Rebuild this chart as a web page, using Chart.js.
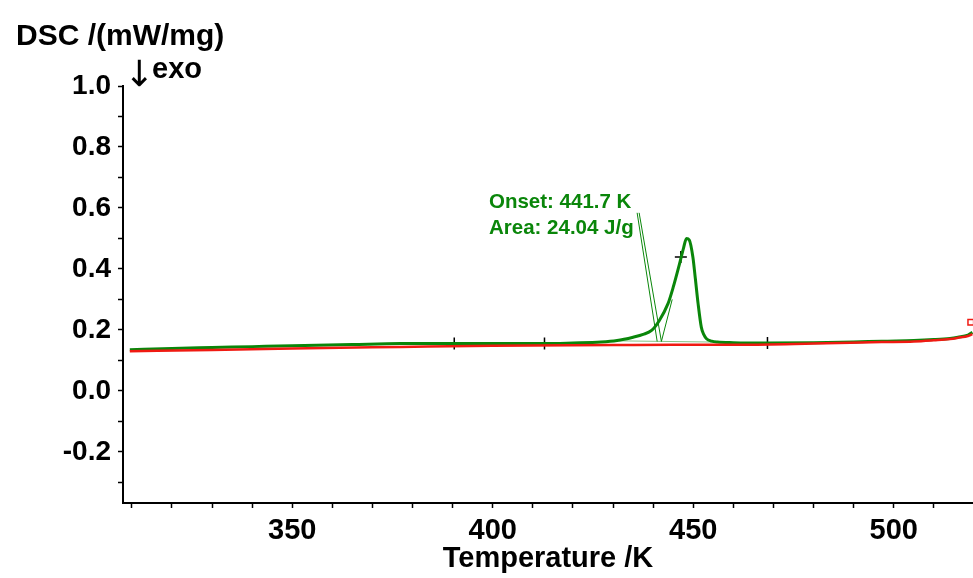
<!DOCTYPE html>
<html><head><meta charset="utf-8">
<script src="https://cdn.jsdelivr.net/npm/chart.js@4/dist/chart.umd.min.js"></script>
<style>html,body{margin:0;padding:0;background:#fff}</style>
</head><body>
<canvas id="c" width="973" height="578"></canvas>
<script>
// ---- data ----
const greenT = [309.5,320,330,340,350,365,377,390,400,413,420,427,431,435,437.5,439.6,441.5,443.7,445,446.6,447.6,448.3,449,449.9,450.5,451.2,452,452.6,453.3,454.6,456,460,468.5,480,490,497,505,510,514,516,518.5,519.6];
const greenV = [0.135,0.139,0.142,0.145,0.148,0.152,0.155,0.155,0.155,0.155,0.157,0.160,0.165,0.176,0.185,0.198,0.230,0.286,0.340,0.418,0.470,0.500,0.495,0.439,0.370,0.286,0.209,0.185,0.171,0.163,0.160,0.158,0.157,0.158,0.160,0.163,0.165,0.168,0.172,0.176,0.183,0.192];
const redT = [309.5,330,350,377,400,430,445,462,480,497,505,510,514,516,518.5,519.6];
const redV = [0.130,0.134,0.139,0.144,0.148,0.150,0.151,0.151,0.155,0.160,0.162,0.166,0.170,0.174,0.180,0.186];
const leaderA = [[436.0,0.584],[441.0,0.162]];
const leaderB = [[436.5,0.584],[442.05,0.162]];
const tangent = [[442.05,0.162],[444.75,0.300]];
const integBase = [[431,0.164],[455,0.160]];
const crossT = [390.4,412.9,446.9,468.5];
const crossV = [0.155,0.155,0.439,0.157];
const markT = [519.2];
const markV = [0.225];
const xTicks = [310,320,330,340,350,360,370,380,390,400,410,420,430,440,450,460,470,480,490,500,510];
const xLabels = [350,400,450,500];
const yTicks = [-0.3,-0.2,-0.1,0.0,0.1,0.2,0.3,0.4,0.5,0.6,0.7,0.8,0.9,1.0];
const yLabels = [-0.2,0.0,0.2,0.4,0.6,0.8,1.0];
const onsetText = 'Onset: 441.7 K';
const areaText = 'Area: 24.04 J/g';
const yTitle = 'DSC /(mW/mg)';
const exoText = 'exo';
const xTitle = 'Temperature /K';

const GREEN = '#0a860a';
const RED = '#f01a12';
const toXY = (ts, vs) => ts.map((t,i)=>({x:t,y:vs[i]}));
const pairs = p => p.map(a=>({x:a[0],y:a[1]}));
const near = (v, arr) => arr.some(a => Math.abs(a - v) < 1e-6);

const textPlugin = {
  id: 'texts',
  afterDraw(chart){
    const ctx = chart.ctx;
    ctx.save();
    ctx.fillStyle = '#000';
    ctx.textBaseline = 'alphabetic';
    ctx.textAlign = 'left';
    ctx.font = 'bold 30px "Liberation Sans", Arial, sans-serif';
    ctx.fillText(yTitle, 16, 45);
    ctx.font = '36px "DejaVu Sans", sans-serif';
    ctx.fillText('\u2193', 124, 86);
    ctx.font = 'bold 29px "Liberation Sans", Arial, sans-serif';
    ctx.fillText(exoText, 152, 78);
    ctx.fillStyle = GREEN;
    ctx.font = 'bold 20.5px "Liberation Sans", Arial, sans-serif';
    ctx.fillText(onsetText, 489, 208);
    ctx.fillText(areaText, 489, 234);
    ctx.restore();
  }
};

new Chart(document.getElementById('c'), {
  type: 'scatter',
  data: {
    datasets: [
      {data: pairs(integBase), showLine:true, borderColor:'rgba(10,134,10,0.5)', borderWidth:1, pointRadius:0},
      {data: toXY(redT, redV), showLine:true, borderColor:RED, borderWidth:2.5, pointRadius:0, cubicInterpolationMode:'monotone'},
      {data: toXY(greenT, greenV), showLine:true, borderColor:GREEN, borderWidth:3, pointRadius:0, cubicInterpolationMode:'monotone'},
      {data: pairs(leaderA), showLine:true, borderColor:GREEN, borderWidth:1, pointRadius:0},
      {data: pairs(leaderB), showLine:true, borderColor:GREEN, borderWidth:1, pointRadius:0},
      {data: pairs(tangent), showLine:true, borderColor:GREEN, borderWidth:1, pointRadius:0},
      {data: toXY(crossT, crossV), showLine:false, pointStyle:'cross', pointRadius:6, borderColor:'#000', borderWidth:1.5},
      {data: toXY(markT, markV), showLine:false, pointStyle:'rect', pointRadius:4, borderColor:RED, backgroundColor:'#fff', borderWidth:1.5}
    ]
  },
  options: {
    responsive:false, animation:false, devicePixelRatio:1,
    layout:{autoPadding:false, padding:{top:86,left:0,right:0,bottom:0}},
    plugins:{legend:{display:false}, tooltip:{enabled:false}},
    scales:{
      x:{
        type:'linear', min:307.8, max:519.75,
        afterBuildTicks: s => { s.ticks = xTicks.map(v=>({value:v})); },
        afterFit: s => { s.height = 75; },
        ticks:{autoSkip:false, maxRotation:0, padding:6, color:'#000',
          font:{family:'"Liberation Sans", Arial, sans-serif', size:29, weight:'bold'},
          callback: v => near(v, xLabels) ? String(v) : ''},
        grid:{drawOnChartArea:false, drawTicks:true, tickLength:5, tickColor:'#000', tickWidth:1.5},
        border:{display:true, color:'#000', width:2},
        title:{display:true, text:xTitle, color:'#000', padding:{top:0,bottom:2},
          font:{family:'"Liberation Sans", Arial, sans-serif', size:29, weight:'bold'}}
      },
      y:{
        type:'linear', min:-0.368, max:1.0,
        afterBuildTicks: s => { s.ticks = yTicks.map(v=>({value:v})); },
        afterFit: s => { s.width = 123; },
        ticks:{autoSkip:false, padding:7, color:'#000',
          font:{family:'"Liberation Sans", Arial, sans-serif', size:28, weight:'bold'},
          callback: v => near(v, yLabels) ? Number(v).toFixed(1) : ''},
        grid:{drawOnChartArea:false, drawTicks:true, tickLength:5, tickColor:'#000', tickWidth:1.5},
        border:{display:true, color:'#000', width:2}
      }
    }
  },
  plugins:[textPlugin]
});
</script>
</body></html>
